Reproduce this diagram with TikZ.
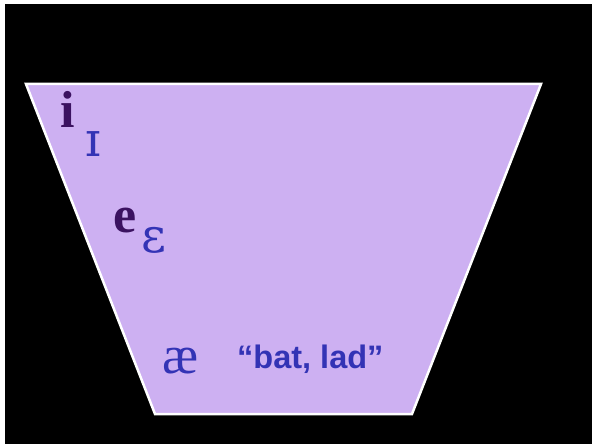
\documentclass[tikz,border=0pt]{standalone}
\usepackage{fontspec}
\setmainfont{Liberation Serif}
\newfontfamily\ipafont{DejaVu Serif}
\newfontfamily\arialfont{Liberation Sans}
\definecolor{lav}{HTML}{CDB0F2}
\definecolor{dpurp}{HTML}{3B1260}
\definecolor{vblue}{HTML}{3333B5}
\tikzset{
  vowel/.style={anchor=base, inner sep=0pt},
  dark/.style={vowel, text=dpurp, font=\bfseries\fontsize{52}{60}\selectfont},
  light/.style={vowel, text=vblue, font=\ipafont\fontsize{48}{56}\selectfont},
}
\begin{document}
\begin{tikzpicture}[x=1pt,y=-1pt]
\fill[white] (0,0) rectangle (592,444);
\useasboundingbox (0,0) rectangle (592,444);
\fill[black] (5,4) rectangle (592,444);
\filldraw[fill=lav, draw=white, line width=2.5pt, line join=miter]
  (26,84) -- (541,84) -- (412,414) -- (155,414) -- cycle;
\node[dark] (i) at (68,128) {i};
\node[light] (ismall) at (93,156) {ɪ};
\node[dark] (e) at (125,232) {e};
\node[light] (eps) at (154,252) {ɛ};
\node[light, font=\fontsize{54}{60}\selectfont] (ae) at (181,373) {æ};
\node[anchor=base west, inner sep=0pt, text=vblue, font=\arialfont\bfseries\fontsize{32.5}{38}\selectfont] (bat) at (237,368) {“bat, lad”};
\end{tikzpicture}
\end{document}
